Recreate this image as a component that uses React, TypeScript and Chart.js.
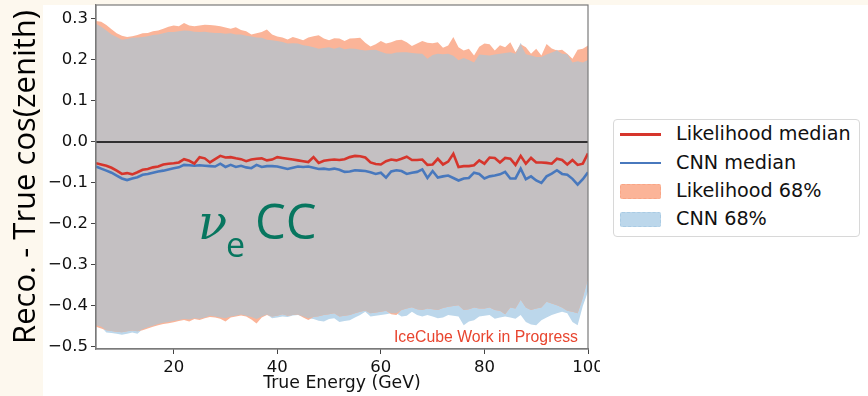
import { useEffect, useRef } from "react";
import { Chart, registerables } from "chart.js";

Chart.register(...registerables);

// ---------- data ----------
const energyGeV = [
  5, 6, 7, 8, 9, 10, 11, 12, 13, 14, 15, 16, 17, 18, 19, 20, 21, 22, 23, 24,
  25, 26, 27, 28, 29, 30, 31, 32, 33, 34, 35, 36, 37, 38, 39, 40, 41, 42, 43, 44,
  45, 46, 47, 48, 49, 50, 51, 52, 53, 54, 55, 56, 57, 58, 59, 60, 61, 62, 63, 64,
  65, 66, 67, 68, 69, 70, 71, 72, 73, 74, 75, 76, 77, 78, 79, 80, 81, 82, 83, 84,
  85, 86, 87, 88, 89, 90, 91, 92, 93, 94, 95, 96, 97, 98, 99, 100,
];

const likelihoodMedian = [
  -0.052, -0.055, -0.058, -0.063, -0.07, -0.078, -0.076, -0.079, -0.074, -0.068,
  -0.066, -0.062, -0.06, -0.055, -0.053, -0.052, -0.05, -0.042, -0.046, -0.053,
  -0.037, -0.04, -0.05, -0.042, -0.034, -0.038, -0.037, -0.04, -0.042, -0.047,
  -0.043, -0.041, -0.04, -0.045, -0.043, -0.037, -0.039, -0.041, -0.043, -0.045,
  -0.047, -0.049, -0.037, -0.051, -0.046, -0.044, -0.043, -0.044, -0.042, -0.037,
  -0.034, -0.035, -0.038, -0.05, -0.054, -0.055, -0.047, -0.043, -0.045, -0.041,
  -0.036, -0.044, -0.044, -0.043, -0.056, -0.055, -0.041, -0.055, -0.048, -0.029,
  -0.061, -0.059, -0.059, -0.057, -0.045, -0.053, -0.038, -0.039, -0.05, -0.039,
  -0.041, -0.056, -0.034, -0.053, -0.039, -0.05, -0.05, -0.051, -0.053, -0.041,
  -0.044, -0.055, -0.044, -0.056, -0.053, -0.028,
];

const cnnMedian = [
  -0.06, -0.065, -0.07, -0.075, -0.082, -0.089, -0.093, -0.089, -0.086, -0.08,
  -0.078, -0.075, -0.072, -0.07, -0.067, -0.064, -0.062, -0.056, -0.057, -0.058,
  -0.057, -0.058, -0.059, -0.06, -0.053, -0.061, -0.056, -0.061, -0.058, -0.062,
  -0.064, -0.056, -0.061, -0.059, -0.059, -0.06, -0.063, -0.066, -0.063, -0.06,
  -0.061, -0.06, -0.063, -0.066, -0.065, -0.067, -0.065, -0.068, -0.073, -0.072,
  -0.069, -0.07, -0.071, -0.074, -0.078, -0.075, -0.087, -0.072, -0.069, -0.071,
  -0.078, -0.075, -0.073, -0.067, -0.088, -0.071, -0.087, -0.084, -0.082, -0.088,
  -0.094, -0.089, -0.088, -0.075, -0.078, -0.089, -0.084, -0.082, -0.079, -0.073,
  -0.089, -0.089, -0.065, -0.091, -0.084, -0.094, -0.1, -0.084, -0.077, -0.069,
  -0.078, -0.08, -0.09, -0.104, -0.091, -0.074,
];

const likelihoodUpper68 = [
  0.295, 0.293, 0.285, 0.275, 0.265, 0.259, 0.256, 0.258, 0.261, 0.265,
  0.266, 0.27, 0.272, 0.276, 0.281, 0.284, 0.282, 0.29, 0.284, 0.282,
  0.284, 0.286, 0.285, 0.284, 0.282, 0.279, 0.276, 0.28, 0.273, 0.27,
  0.262, 0.265, 0.268, 0.274, 0.262, 0.257, 0.255, 0.25, 0.256, 0.252,
  0.248, 0.255, 0.258, 0.26, 0.252, 0.248, 0.253, 0.252, 0.246, 0.252,
  0.253, 0.254, 0.242, 0.233, 0.238, 0.246, 0.24, 0.243, 0.248, 0.249,
  0.243, 0.234, 0.24, 0.246, 0.242, 0.241, 0.243, 0.23, 0.235, 0.256,
  0.231, 0.223, 0.227, 0.211, 0.232, 0.24, 0.238, 0.223, 0.236, 0.231,
  0.243, 0.219, 0.238, 0.231, 0.215, 0.227, 0.211, 0.239, 0.228, 0.223,
  0.225, 0.215, 0.203, 0.225, 0.227, 0.235,
];

const likelihoodLower68 = [
  -0.451, -0.455, -0.459, -0.461, -0.463, -0.464, -0.462, -0.46, -0.462, -0.459,
  -0.455, -0.451, -0.447, -0.444, -0.442, -0.44, -0.437, -0.434, -0.438, -0.432,
  -0.434, -0.43, -0.427, -0.428, -0.431, -0.438, -0.428, -0.426, -0.423, -0.426,
  -0.433, -0.443, -0.428, -0.422, -0.426, -0.424, -0.42, -0.424, -0.422, -0.421,
  -0.428, -0.434, -0.427, -0.425, -0.422, -0.42, -0.418, -0.426, -0.424, -0.422,
  -0.418, -0.414, -0.411, -0.418, -0.416, -0.414, -0.412, -0.42, -0.422, -0.41,
  -0.406, -0.403, -0.408, -0.41, -0.406, -0.408, -0.41, -0.405, -0.402, -0.4,
  -0.398, -0.41, -0.408, -0.404, -0.406, -0.406, -0.404, -0.41, -0.412, -0.42,
  -0.404, -0.406, -0.385, -0.404, -0.41, -0.406, -0.404, -0.39, -0.394, -0.398,
  -0.404, -0.412, -0.414, -0.418, -0.38, -0.333,
];

const cnnUpper68 = [
  0.288, 0.281, 0.272, 0.262, 0.256, 0.249, 0.251, 0.254, 0.255, 0.256,
  0.258, 0.261, 0.262, 0.265, 0.268, 0.268, 0.27, 0.272, 0.271, 0.269,
  0.268, 0.269, 0.267, 0.266, 0.266, 0.264, 0.265, 0.262, 0.262, 0.259,
  0.257, 0.255, 0.254, 0.249, 0.248, 0.246, 0.244, 0.24, 0.241, 0.24,
  0.236, 0.234, 0.231, 0.227, 0.229, 0.231, 0.227, 0.231, 0.226, 0.228,
  0.227, 0.225, 0.223, 0.224, 0.225, 0.22, 0.216, 0.215, 0.218, 0.219,
  0.219, 0.217, 0.216, 0.215, 0.203, 0.212, 0.215, 0.214, 0.215, 0.21,
  0.199, 0.205, 0.2, 0.194, 0.213, 0.212, 0.211, 0.213, 0.215, 0.217,
  0.219, 0.215, 0.242, 0.214, 0.211, 0.207, 0.207, 0.213, 0.218, 0.225,
  0.215, 0.214, 0.194, 0.197, 0.194, 0.2,
];

const cnnLower68 = [
  -0.447, -0.451, -0.465, -0.466, -0.468, -0.47, -0.468, -0.465, -0.468, -0.457,
  -0.452, -0.448, -0.444, -0.441, -0.439, -0.437, -0.434, -0.432, -0.433, -0.43,
  -0.431, -0.428, -0.424, -0.426, -0.428, -0.43, -0.426, -0.424, -0.421, -0.424,
  -0.427, -0.432, -0.426, -0.421, -0.43, -0.428, -0.426, -0.427, -0.423, -0.422,
  -0.426, -0.43, -0.432, -0.436, -0.438, -0.432, -0.43, -0.439, -0.437, -0.435,
  -0.428, -0.422, -0.414, -0.426, -0.424, -0.422, -0.42, -0.418, -0.418, -0.426,
  -0.424, -0.414, -0.422, -0.426, -0.422, -0.426, -0.43, -0.428, -0.422, -0.424,
  -0.426, -0.447, -0.438, -0.435, -0.426, -0.424, -0.422, -0.431, -0.428, -0.426,
  -0.428, -0.431, -0.422, -0.439, -0.445, -0.447, -0.435, -0.428, -0.422, -0.418,
  -0.414, -0.418, -0.439, -0.447, -0.4, -0.365,
];

const xTickValues = [20, 40, 60, 80, 100];
const yTickValues = [-0.5, -0.4, -0.3, -0.2, -0.1, 0.0, 0.1, 0.2, 0.3];

const legendLabels = ["Likelihood median", "CNN median", "Likelihood 68%", "CNN 68%"];
const xAxisLabel = "True Energy (GeV)";
const yAxisLabel = "Reco. - True cos(zenith)";
const watermarkText = "IceCube Work in Progress";
const channelSymbol = "\u03BD";
const channelSub = "e";
const channelName = "CC";

// ---------- styles ----------
const RED = "#d6352c";
const BLUE = "#4878bd";
const ORANGE_FILL = "#fbb498";
const BLUE_FILL = "#bcd7eb";
const OVERLAP_FILL = "#c4c0c2";
const FRAME = "#7a7a7a";
const CREAM = "#fdf8ee";
const TEAL = "#07765f";
const WATERMARK = "#e8452f";

const toPoints = (ys: number[]) => energyGeV.map((x, i) => ({ x, y: ys[i] }));
const overlapUpper = likelihoodUpper68.map((v, i) => Math.min(v, cnnUpper68[i]));
const overlapLower = likelihoodLower68.map((v, i) => Math.max(v, cnnLower68[i]));

const fmtTick = (v: number) => (v < -1e-9 ? "\u2212" : "") + Math.abs(v).toFixed(1);

const bandEdge = (label: string, data: number[], fill: any, color: string) => ({
  label,
  data: toPoints(data),
  borderColor: "rgba(0,0,0,0)",
  borderWidth: 0,
  pointRadius: 0,
  backgroundColor: color,
  fill,
});

const decorPlugin = {
  id: "decor",
  afterDatasetsDraw(chart: any) {
    const { ctx, chartArea, scales } = chart;
    const { left, right, top, bottom } = chartArea;
    const y0 = scales.y.getPixelForValue(0);
    ctx.save();
    // zero line
    ctx.strokeStyle = "#000";
    ctx.lineWidth = 1.6;
    ctx.beginPath();
    ctx.moveTo(left, y0);
    ctx.lineTo(right, y0);
    ctx.stroke();
    // frame
    ctx.strokeStyle = FRAME;
    ctx.lineWidth = 1.2;
    ctx.strokeRect(left, top, right - left, bottom - top);
    // channel label
    ctx.fillStyle = TEAL;
    ctx.textBaseline = "alphabetic";
    ctx.textAlign = "left";
    ctx.font = "italic 48px 'DejaVu Serif'";
    ctx.fillText(channelSymbol, 198, 239);
    ctx.font = "34px 'Open Sans'";
    ctx.fillText(channelSub, 226, 257);
    ctx.font = "49px 'Open Sans'";
    ctx.fillText(channelName, 255, 239);
    // watermark
    ctx.fillStyle = WATERMARK;
    ctx.font = "15.8px 'Liberation Sans'";
    ctx.textAlign = "right";
    ctx.fillText(watermarkText, 578, 341.5);
    ctx.restore();
  },
};

function ChartCanvas() {
  const ref = useRef<HTMLCanvasElement | null>(null);
  useEffect(() => {
    if (!ref.current) return;
    const chart = new Chart(ref.current, {
      type: "line",
      data: {
        datasets: [
          {
            label: legendLabels[0],
            data: toPoints(likelihoodMedian),
            borderColor: RED,
            borderWidth: 2.6,
            pointRadius: 0,
            fill: false,
          },
          {
            label: legendLabels[1],
            data: toPoints(cnnMedian),
            borderColor: BLUE,
            borderWidth: 2.6,
            pointRadius: 0,
            fill: false,
          },
          bandEdge("overlap upper", overlapUpper, "+1", OVERLAP_FILL),
          bandEdge("overlap lower", overlapLower, false, OVERLAP_FILL),
          bandEdge(legendLabels[2], likelihoodUpper68, "+1", ORANGE_FILL),
          bandEdge("Likelihood lower", likelihoodLower68, false, ORANGE_FILL),
          bandEdge(legendLabels[3], cnnUpper68, "+1", BLUE_FILL),
          bandEdge("CNN lower", cnnLower68, false, BLUE_FILL),
        ] as any,
      },
      options: {
        animation: false,
        responsive: false,
        maintainAspectRatio: false,
        devicePixelRatio: 1,
        layout: { padding: { left: 0, top: 5, right: 12, bottom: 0 } },
        elements: { line: { tension: 0 } },
        plugins: {
          legend: { display: false },
          tooltip: { enabled: false },
          filler: { propagate: false, drawTime: "beforeDatasetsDraw" } as any,
        },
        scales: {
          x: {
            type: "linear",
            min: 5,
            max: 100,
            afterBuildTicks: (s: any) => {
              s.ticks = xTickValues.map((value) => ({ value }));
            },
            afterFit: (s: any) => {
              s.height = 47;
              s.paddingLeft = 0;
              s.paddingRight = 0;
            },
            ticks: {
              autoSkip: false,
              maxRotation: 0,
              padding: 4,
              color: "#111",
              font: { family: "'DejaVu Sans'", size: 16.5 },
              callback: (v: any) => String(v),
            },
            grid: {
              display: true,
              drawOnChartArea: false,
              drawTicks: true,
              tickLength: 5,
              tickColor: "#444",
              tickWidth: 1,
            },
            border: { display: true, color: FRAME, width: 1.2 },
            title: {
              display: true,
              text: xAxisLabel,
              color: "#111",
              font: { family: "'DejaVu Sans'", size: 17.3 },
              padding: { top: 0, bottom: 2 },
            },
          },
          y: {
            type: "linear",
            min: -0.505,
            max: 0.334,
            afterBuildTicks: (s: any) => {
              s.ticks = yTickValues.map((value) => ({ value }));
            },
            afterFit: (s: any) => {
              s.width = 96;
              s.paddingTop = 0;
              s.paddingBottom = 0;
            },
            ticks: {
              autoSkip: false,
              padding: 3,
              color: "#111",
              font: { family: "'DejaVu Sans'", size: 16.5 },
              callback: (v: any) => fmtTick(Number(v)),
            },
            grid: {
              display: true,
              drawOnChartArea: false,
              drawTicks: true,
              tickLength: 5,
              tickColor: "#444",
              tickWidth: 1,
            },
            border: { display: true, color: FRAME, width: 1.2 },
            title: {
              display: true,
              text: yAxisLabel,
              color: "#000",
              font: { family: "'Open Sans'", size: 31 },
              padding: { top: 7.4, bottom: 0 },
            },
          },
        },
      },
      plugins: [decorPlugin],
    });
    return () => chart.destroy();
  }, []);
  return (
    <canvas
      ref={ref}
      width={600}
      height={396}
      style={{ position: "absolute", left: 0, top: 0, width: 600, height: 396 }}
    />
  );
}

function LegendRow({ index }: { index: number }) {
  const centers = [14.3, 43, 71, 99.3];
  const isLine = index < 2;
  const lineColor = index === 0 ? RED : BLUE;
  const patchFill = index === 2 ? ORANGE_FILL : BLUE_FILL;
  const patchEdge = index === 2 ? "#f9a585" : "#a9cbe4";
  return (
    <div
      style={{
        position: "absolute",
        left: 0,
        top: centers[index] - 14,
        height: 28,
        width: "100%",
        display: "flex",
        alignItems: "center",
      }}
    >
      <div style={{ width: 6, flex: "none" }} />
      {isLine ? (
        <div style={{ width: 41, height: 2.6, background: lineColor, flex: "none" }} />
      ) : (
        <div
          style={{
            width: 41,
            height: 15,
            background: patchFill,
            border: `1.5px dashed ${patchEdge}`,
            boxSizing: "border-box",
            borderRadius: 2,
            flex: "none",
          }}
        />
      )}
      <div style={{ width: 15, flex: "none" }} />
      <span
        style={{
          fontFamily: "'DejaVu Sans'",
          fontSize: 19.2,
          color: "#111",
          whiteSpace: "nowrap",
          lineHeight: "28px",
        }}
      >
        {legendLabels[index]}
      </span>
    </div>
  );
}

export default function App() {
  return (
    <div
      style={{
        position: "relative",
        width: 868,
        height: 396,
        background: CREAM,
        overflow: "hidden",
      }}
    >
      <style>{"html,body{margin:0;padding:0;}"}</style>
      <div
        style={{
          position: "absolute",
          left: 43,
          top: 5,
          right: 0,
          bottom: 0,
          background: "#fff",
        }}
      />
      <ChartCanvas />
      <div
        style={{
          position: "absolute",
          left: 613,
          top: 119,
          width: 247,
          height: 118,
          border: "1px solid #d8d8d8",
          borderRadius: 4,
          boxSizing: "border-box",
          background: "#fff",
        }}
      >
        {[0, 1, 2, 3].map((i) => (
          <LegendRow key={i} index={i} />
        ))}
      </div>
    </div>
  );
}
